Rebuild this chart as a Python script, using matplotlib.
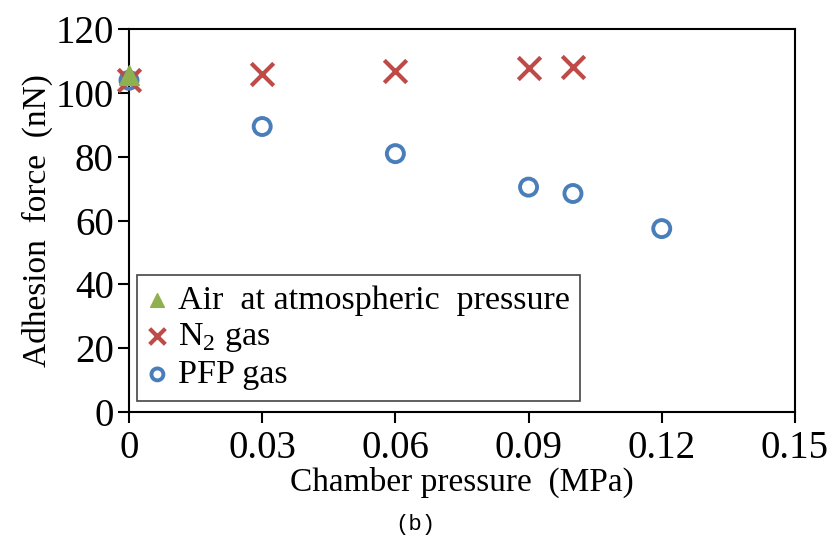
import matplotlib
matplotlib.use('Agg')
import matplotlib.pyplot as plt

# data
air_x = [0.0]
air_y = [105.5]
n2_x = [0.0, 0.03, 0.06, 0.09, 0.10]
n2_y = [104.0, 106.0, 107.0, 107.8, 108.0]
pfp_x = [0.0, 0.03, 0.06, 0.09, 0.10, 0.12]
pfp_y = [104.0, 89.5, 81.0, 70.5, 68.5, 57.5]
xticks = [0, 0.03, 0.06, 0.09, 0.12, 0.15]
xtick_labels = ['0', '0.03', '0.06', '0.09', '0.12', '0.15']
yticks = [0, 20, 40, 60, 80, 100, 120]

plt.rcParams['font.family'] = ['Liberation Serif', 'DejaVu Serif']
plt.rcParams['mathtext.fontset'] = 'custom'
plt.rcParams['mathtext.rm'] = 'Liberation Serif'

fig = plt.figure(figsize=(8.35, 5.41), dpi=100)
ax = fig.add_axes([0.1545, 0.2384, 0.7975, 0.7076])

ax.scatter(pfp_x, pfp_y, s=150, facecolors='none', edgecolors='#4a7ebb',
           linewidths=2.8, label='PFP gas', zorder=3)
ax.scatter(n2_x, n2_y, s=260, marker='x', color='#be4b48', linewidths=3,
           label='N$_\\mathrm{2}$ gas', zorder=4)
ax.scatter(air_x, air_y, s=200, marker='^', color='#8fb04e', label='Air at atmospheric pressure',
           zorder=5, clip_on=False)

ax.set_xlim(0, 0.15)
ax.set_ylim(0, 120)
ax.set_xticks(xticks)
ax.set_xticklabels(xtick_labels)
ax.set_yticks(yticks)
ax.tick_params(direction='out', length=8, width=1.5, labelsize=28, pad=3)
ax.tick_params(axis='x', pad=5)
for side in ['top', 'right', 'bottom', 'left']:
    ax.spines[side].set_linewidth(1.5)
for c in ax.collections:
    c.set_clip_on(False)

ax.set_xlabel('Chamber pressure  (MPa)', fontsize=24, labelpad=0)
ax.set_ylabel('Adhesion  force  (nN)', fontsize=24, labelpad=2)

h, l = ax.get_legend_handles_labels()
leg = ax.legend(h[::-1], ['Air  at atmospheric  pressure', 'N$_\\mathrm{2}$ gas', 'PFP gas'],
                loc='lower left', bbox_to_anchor=(0.012, 0.03), fontsize=24.5,
                frameon=True, fancybox=False, edgecolor='#444444', framealpha=1,
                handlelength=0.6, handletextpad=0.3, labelspacing=0.15,
                borderpad=0.3, borderaxespad=0, scatterpoints=1, markerscale=0.7)
leg.get_frame().set_linewidth(1.2)

fig.text(0.497, 0.012, '(b)', fontsize=16, family='Liberation Mono', ha='center', va='bottom')

fig.savefig('out.png', dpi=100)
